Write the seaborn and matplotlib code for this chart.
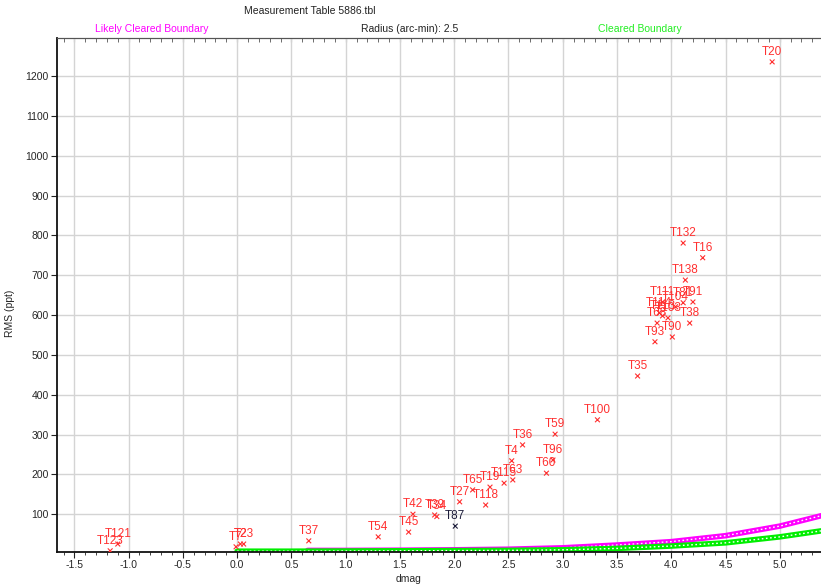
import numpy as np
import pandas as pd
import matplotlib
matplotlib.use("Agg")
import matplotlib.pyplot as plt
import seaborn as sns
from matplotlib.ticker import MultipleLocator

# star labels, dmag and RMS (ppt)
labels = ["T20", "T132", "T16", "T138", "T111", "T104", "T81", "T91", "T114", "T113",
          "T103", "T68", "T38", "T90", "T93", "T35", "T100", "T59", "T96", "T60",
          "T36", "T4", "T63", "T115", "T19", "T65", "T118", "T27", "T87", "T42",
          "T45", "T39", "T34", "T54", "T37", "T7", "T2", "T23", "T121", "T123"]
dmag = [4.93, 4.11, 4.29, 4.13, 3.92, 4.04, 4.11, 4.20, 3.89, 3.92,
        3.97, 3.87, 4.17, 4.01, 3.85, 3.69, 3.32, 2.93, 2.91, 2.85,
        2.63, 2.53, 2.54, 2.46, 2.33, 2.17, 2.29, 2.05, 2.01, 1.62,
        1.58, 1.82, 1.84, 1.30, 0.66, -0.01, 0.03, 0.06, -1.10, -1.17]
rms = [1236, 781, 744, 688, 633, 621, 631, 633, 606, 598,
       593, 580, 580, 545, 533, 447, 337, 301, 236, 203,
       274, 234, 186, 178, 168, 161, 123, 131, 70, 100,
       55, 98, 94, 43, 33, 18, 25, 25, 25, 8]
target = ["T87"]

# boundary curves
cleared_dmag = [0.0, 0.5, 1.0, 1.5, 2.0, 2.5, 3.0, 3.5, 4.0, 4.5, 5.0, 5.38]
cleared_rms = [7, 7, 7.5, 8, 8.5, 9, 10.5, 14, 20, 28, 43, 58]
likely_dmag = [0.65, 1.0, 1.5, 2.0, 2.5, 3.0, 3.5, 4.0, 4.5, 5.0, 5.38]
likely_rms = [9, 9, 9.5, 10.5, 12, 15.5, 22.5, 31, 46, 70, 96]

df = pd.DataFrame({"label": labels, "dmag": dmag, "rms": rms})
df["kind"] = np.where(df["label"].isin(target), "target", "other")

sns.set_style("white")
plt.rcParams["font.family"] = ["Liberation Sans", "DejaVu Sans"]
plt.rcParams["axes.unicode_minus"] = False

fig = plt.figure(figsize=(8.21, 5.86), dpi=100)
ax = fig.add_axes([57 / 821, 34 / 586, 764 / 821, 514 / 586])

# boundary bands drawn as thick lines with a thin white dash inside (hollow squares look)
for bx, by, col in [(likely_dmag, likely_rms, "#ff00ff"), (cleared_dmag, cleared_rms, "#00ee00")]:
    sns.lineplot(x=bx, y=by, ax=ax, color=col, lw=4, sort=False)
    ax.plot(bx, by, color="white", lw=1, dashes=(1.2, 1.8))

pal = {"other": "#ff3030", "target": "#1c1c3a"}
sns.scatterplot(data=df, x="dmag", y="rms", hue="kind", palette=pal, marker="x",
                s=12, linewidth=0.8, ax=ax, legend=False, zorder=5)
for _, r in df.iterrows():
    ax.annotate(r["label"], (r["dmag"], r["rms"]), xytext=(0, 3),
                textcoords="offset points", ha="center", va="bottom",
                fontsize=8.5, color=pal[r["kind"]], zorder=6)

ax.set_xlim(-1.66, 5.38)
ax.set_ylim(5, 1296)
ax.xaxis.set_major_locator(MultipleLocator(0.5))
ax.xaxis.set_minor_locator(MultipleLocator(0.1))
ax.set_yticks(np.arange(100, 1300, 100))
ax.grid(True, which="major", color="#d4d4d4", lw=1)
ax.tick_params(axis="both", which="major", direction="out", length=4, labelsize=7.5,
               color="#222222", pad=2)
ax.tick_params(axis="x", which="minor", direction="out", length=2.5, color="#222222")
ax.tick_params(bottom=True, left=True, which="both")

top = ax.secondary_xaxis("top")
top.xaxis.set_major_locator(MultipleLocator(0.5))
top.xaxis.set_minor_locator(MultipleLocator(0.1))
top.tick_params(which="both", direction="in", length=3, labeltop=False, color="#555555")
top.spines["top"].set_color("#555555")

for side in ["left", "bottom"]:
    ax.spines[side].set_color("#111111")
    ax.spines[side].set_linewidth(1.3)
ax.spines["right"].set_visible(False)
ax.spines["top"].set_color("#555555")

ax.set_xlabel("dmag", fontsize=7.5)
ax.set_ylabel("RMS (ppt)", fontsize=7.5)
ax.xaxis.set_label_coords((409 - 57) / 764, -22 / 514)
ax.yaxis.set_label_coords(-(57 - 15) / 764, (552 - 313) / 514)

fig.text(310 / 821, 1 - 11 / 586, "Measurement Table 5886.tbl", ha="center", va="center",
         fontsize=7.5, color="#222222")
fig.text(152 / 821, 1 - 29 / 586, "Likely Cleared Boundary", ha="center", va="center",
         fontsize=7.5, color="#ff00ff")
fig.text(410 / 821, 1 - 29 / 586, "Radius (arc-min): 2.5", ha="center", va="center",
         fontsize=7.5, color="#222222")
fig.text(640 / 821, 1 - 29 / 586, "Cleared Boundary", ha="center", va="center",
         fontsize=7.5, color="#22ee22")

fig.savefig("out.png", dpi=100)
